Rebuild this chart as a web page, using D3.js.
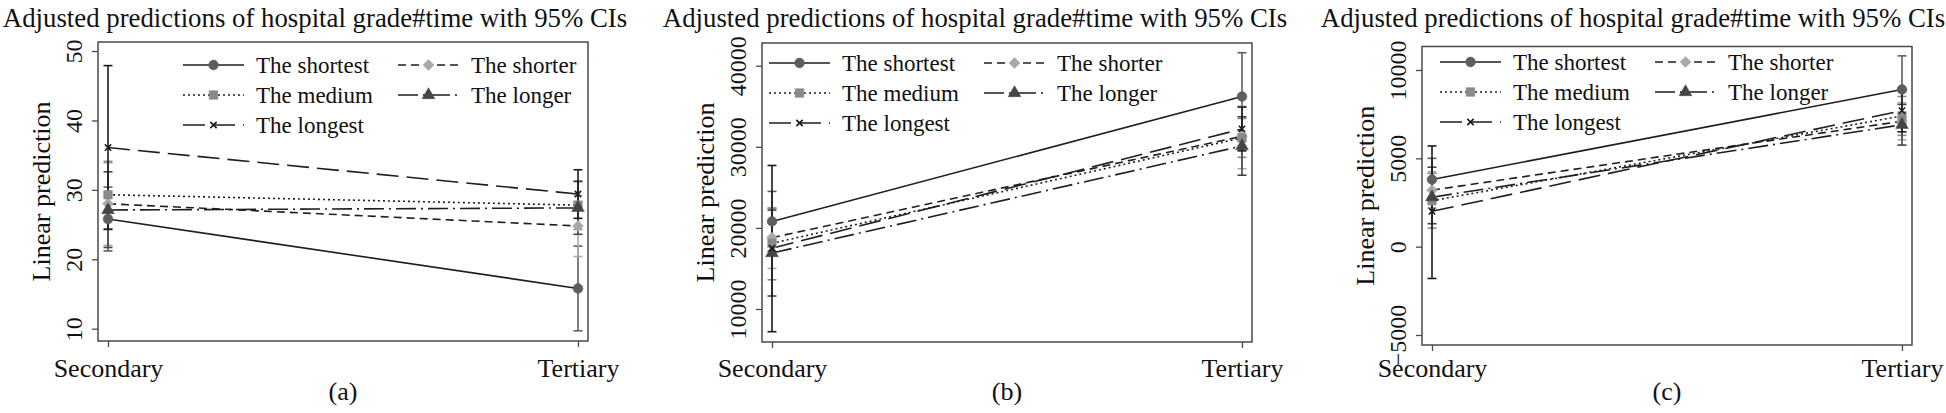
<!DOCTYPE html>
<html>
<head>
<meta charset="utf-8">
<script src="https://cdn.jsdelivr.net/npm/d3@7"></script>
<style>
  html, body { margin: 0; padding: 0; background: #fff; }
  svg text { font-family: "Liberation Serif", "Times New Roman", serif; fill: #111; }
</style>
</head>
<body>
<svg id="chart" width="1946" height="413"></svg>
<script>
// ---------------- data ----------------
const categories = ["Secondary", "Tertiary"];
const seriesNames = ["The shortest", "The shorter", "The medium", "The longer", "The longest"];
const titleText = "Adjusted predictions of hospital grade#time with 95% CIs";
const yTitle = "Linear prediction";
const panelLabels = ["(a)", "(b)", "(c)"];

// panel (a)
const aTicks = [10, 20, 30, 40, 50];
const aEst = [[25.8, 15.8], [28.0, 24.8], [29.3, 27.8], [27.1, 27.4], [36.1, 29.4]];
const aLo  = [[21.2, 9.7],  [22.0, 20.4], [24.4, 24.3], [21.7, 23.6], [24.3, 25.9]];
const aHi  = [[30.4, 21.9], [33.9, 29.2], [34.1, 31.3], [32.6, 31.2], [47.9, 32.9]];

// panel (b)
const bTicks = [10000, 20000, 30000, 40000];
const bEst = [[20800, 36200], [18800, 31300], [18100, 31100], [16900, 30100], [17500, 32200]];
const bLo  = [[17100, 30800], [15000, 27300], [13600, 28700], [11600, 26500], [7200, 29500]];
const bHi  = [[24500, 41600], [22500, 35000], [22400, 33500], [22200, 33700], [27700, 34900]];

// panel (c)
const cTicks = [-5000, 0, 5000, 10000];
const cEst = [[3800, 8900], [3200, 7100], [2600, 7400], [2800, 6900], [2000, 7700]];
const cLo  = [[2600, 6950], [2200, 6050], [1050, 6300], [1300, 5750], [-1800, 6500]];
const cHi  = [[5000, 10800], [4250, 8150], [4150, 8500], [4500, 8050], [5700, 8900]];

// ---------------- styles ----------------
const markerColor = ["#5e5e5e", "#a9a9a9", "#8a8a8a", "#454545", "#1a1a1a"];
const markerShape = [d3.symbolCircle, d3.symbolSquare, d3.symbolSquare, d3.symbolTriangle, d3.symbolTimes];
const markerRot   = [0, 45, 0, 0, 0];
const markerSize  = [75, 60, 75, 70, 28];
const dashArr = [null, "8,5", "2,3", "20,5,2,5", "22,8"];
const lineColor = "#1e1e1e";

// ---------------- layout ----------------
const panels = [
  { x: 98,   y: 42,   w: 490, h: 299, dom: [8.23, 51.3],   ticks: aTicks, est: aEst, lo: aLo, hi: aHi, legX: 183, legY: 65, titleX: 315 },
  { x: 762,  y: 43,   w: 490, h: 299, dom: [5930, 42800],  ticks: bTicks, est: bEst, lo: bLo, hi: bHi, legX: 769, legY: 63, titleX: 975 },
  { x: 1422, y: 46.5, w: 490, h: 298.5, dom: [-5566, 11330], ticks: cTicks, est: cEst, lo: cLo, hi: cHi, legX: 1440, legY: 62, titleX: 1633 }
];

const svg = d3.select("#chart");
svg.append("rect").attr("width", 1946).attr("height", 413).attr("fill", "#fff");

function marker(g, si, cx, cy) {
  g.append("path").attr("d", d3.symbol().type(markerShape[si]).size(markerSize[si])())
    .attr("transform", `translate(${cx},${cy}) rotate(${markerRot[si]})`)
    .attr("fill", markerColor[si])
    .attr("stroke", markerColor[si]).attr("stroke-width", si === 4 ? 1.6 : 0.5);
}

panels.forEach((p, pi) => {
  const g = svg.append("g");
  const x = d3.scalePoint().domain(categories).range([p.x, p.x + p.w]).padding(0.0213);
  const y = d3.scaleLinear().domain(p.dom).range([p.y + p.h, p.y]);

  // title
  g.append("text").attr("x", p.titleX).attr("y", 27).attr("text-anchor", "middle")
    .attr("font-size", 26.8).text(titleText);

  // frame
  g.append("rect").attr("x", p.x).attr("y", p.y).attr("width", p.w).attr("height", p.h)
    .attr("fill", "#fff").attr("stroke", "#4a4a4a").attr("stroke-width", 1.5);

  // y axis
  const yAxis = d3.axisLeft(y).tickValues(p.ticks).tickSize(6).tickFormat(d3.format("d"));
  const ya = g.append("g").attr("transform", `translate(${p.x},0)`).call(yAxis);
  ya.select(".domain").remove();
  ya.selectAll(".tick line").attr("stroke", "#4a4a4a").attr("stroke-width", 1.3);
  ya.selectAll(".tick text")
    .attr("x", 0).attr("dy", null)
    .attr("transform", `translate(-16,0) rotate(-90)`)
    .attr("text-anchor", "middle").attr("font-size", 24)
    .style("font-family", '"Liberation Serif", "Times New Roman", serif').attr("fill", "#111");

  // x axis
  const xAxis = d3.axisBottom(x).tickSize(6);
  const xa = g.append("g").attr("transform", `translate(0,${p.y + p.h})`).call(xAxis);
  xa.select(".domain").remove();
  xa.selectAll(".tick line").attr("stroke", "#4a4a4a").attr("stroke-width", 1.3);
  xa.selectAll(".tick text").attr("y", 0).attr("dy", null)
    .attr("transform", `translate(0,${377 - (p.y + p.h)})`)
    .attr("font-size", 26).style("font-family", '"Liberation Serif", "Times New Roman", serif').attr("fill", "#111");

  // y title
  g.append("text").attr("transform", `translate(${p.x - 48},${p.y + p.h / 2}) rotate(-90)`)
    .attr("text-anchor", "middle").attr("font-size", 26).text(yTitle);

  // panel label
  g.append("text").attr("x", p.x + p.w / 2).attr("y", 400).attr("text-anchor", "middle")
    .attr("font-size", 26).text(panelLabels[pi]);

  // CIs
  seriesNames.forEach((s, si) => {
    categories.forEach((c, ci) => {
      const cx = x(c), y0 = y(p.lo[si][ci]), y1 = y(p.hi[si][ci]);
      g.append("line").attr("x1", cx).attr("x2", cx).attr("y1", y0).attr("y2", y1)
        .attr("stroke", markerColor[si]).attr("stroke-width", 1.6);
      [y0, y1].forEach(yy => g.append("line").attr("x1", cx - 4.5).attr("x2", cx + 4.5)
        .attr("y1", yy).attr("y2", yy).attr("stroke", markerColor[si]).attr("stroke-width", 1.6));
    });
  });

  // connecting lines
  const line = d3.line().x(d => x(d[0])).y(d => y(d[1]));
  seriesNames.forEach((s, si) => {
    g.append("path").datum(categories.map((c, ci) => [c, p.est[si][ci]]))
      .attr("d", line).attr("fill", "none").attr("stroke", lineColor)
      .attr("stroke-width", 1.6).attr("stroke-dasharray", dashArr[si]);
  });

  // markers
  seriesNames.forEach((s, si) => {
    categories.forEach((c, ci) => marker(g, si, x(c), y(p.est[si][ci])));
  });

  // legend: col1 = shortest, medium, longest; col2 = shorter, longer
  seriesNames.forEach((s, si) => {
    const col = si % 2, row = Math.floor(si / 2);
    const lx = p.legX + col * 215, ly = p.legY + row * 30;
    g.append("line").attr("x1", lx).attr("x2", lx + 61).attr("y1", ly).attr("y2", ly)
      .attr("stroke", lineColor).attr("stroke-width", 1.6).attr("stroke-dasharray", dashArr[si]);
    marker(g, si, lx + 30.5, ly);
    g.append("text").attr("x", lx + 73).attr("y", ly + 8).attr("font-size", 23).text(s);
  });
});
</script>
</body>
</html>
